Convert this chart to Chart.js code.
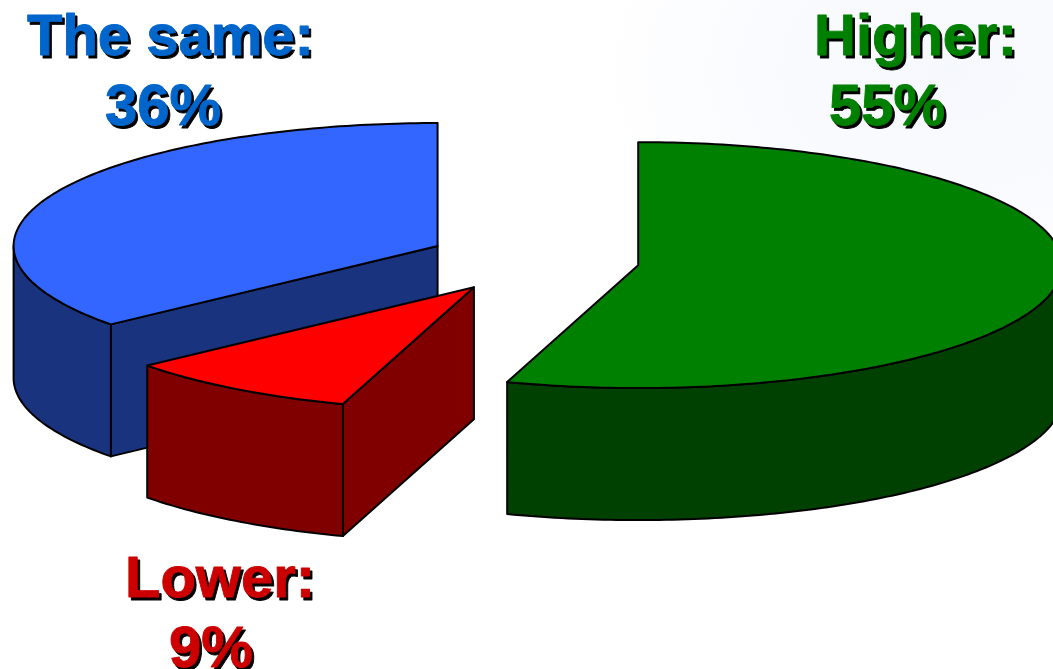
<!DOCTYPE html>
<html><head><meta charset="utf-8">
<style>
html,body{margin:0;padding:0;width:1053px;height:669px;overflow:hidden;
background:radial-gradient(ellipse 360px 260px at 950px 70px,#f5f8fd 0%,#fafbfe 55%,#ffffff 100%);}
#c{display:block;}
</style>
<script src="https://cdn.jsdelivr.net/npm/chart.js@4"></script>
</head><body><canvas id="c" width="1053" height="669"></canvas>
<script>
const categories = ['Higher', 'Lower', 'The same'];
const shares = [55, 9, 36];
const topColors = ['#008000', '#FF0000', '#3366FF'];
const wallColors = ['#004000', '#800000', '#19337F'];
const textColors = ['#008000', '#CC0000', '#0066CC'];
const labelAnchors = [[814, 55, 829, 125], [125, 597, 169, 667], [27, 55, 105, 125]];
const pieRadius = 424, squash = 0.29, depth = 132, explode = 106, explodeSquash = 0.31;

function centre(el) {
  const mid = (el.startAngle + el.endAngle) / 2;
  return { x: el.x + Math.cos(mid) * explode, y: el.y + Math.sin(mid) * explode * explodeSquash, mid };
}
function pt(c, el, a) {
  return { x: c.x + Math.cos(a) * el.outerRadius, y: c.y + Math.sin(a) * el.outerRadius * squash };
}
function arcPts(c, el, a0, a1) {
  const n = Math.max(2, Math.ceil(Math.abs(a1 - a0) * 60)), out = [];
  for (let i = 0; i <= n; i++) out.push(pt(c, el, a0 + (a1 - a0) * i / n));
  return out;
}
function face(ctx, pts, fill) {
  ctx.beginPath();
  pts.forEach((p, i) => i ? ctx.lineTo(p.x, p.y) : ctx.moveTo(p.x, p.y));
  for (let i = pts.length - 1; i >= 0; i--) ctx.lineTo(pts[i].x, pts[i].y + depth);
  ctx.closePath();
  ctx.fillStyle = fill; ctx.fill(); ctx.stroke();
}
function drawWalls(ctx, el, fill) {
  const c = centre(el), a0 = el.startAngle, a1 = el.endAngle, T = Math.PI * 2;
  if (Math.sin(a0 - Math.PI / 2) > 1e-6) face(ctx, [c, pt(c, el, a0)], fill);
  if (Math.sin(a1 + Math.PI / 2) > 1e-6) face(ctx, [c, pt(c, el, a1)], fill);
  for (let k = -1; k <= 1; k++) {
    const s = Math.max(a0, k * T), e = Math.min(a1, k * T + Math.PI);
    if (e > s) face(ctx, arcPts(c, el, s, e), fill);
  }
}
const pie3d = {
  id: 'pie3d',
  beforeDatasetsDraw(chart) {
    const ctx = chart.ctx, arcs = chart.getDatasetMeta(0).data;
    ctx.save();
    ctx.lineWidth = 2; ctx.strokeStyle = '#000'; ctx.lineJoin = 'round';
    [2, 0, 1].forEach(i => drawWalls(ctx, arcs[i], wallColors[i]));
    ctx.restore();
    arcs.forEach(el => {
      const c = centre(el);
      ctx.save();
      ctx.translate(c.x, c.y);
      ctx.scale(1, squash);
      ctx.translate(-el.x, -el.y);
      el.draw(ctx);
      ctx.restore();
      ctx.save();
      ctx.lineWidth = 2; ctx.strokeStyle = '#000'; ctx.lineJoin = 'round';
      ctx.beginPath();
      ctx.moveTo(c.x, c.y);
      arcPts(c, el, el.startAngle, el.endAngle).forEach(p => ctx.lineTo(p.x, p.y));
      ctx.closePath();
      ctx.stroke();
      ctx.restore();
    });
    return false;
  },
  afterDraw(chart) {
    const ctx = chart.ctx;
    ctx.save();
    ctx.font = 'bold 58px "Liberation Sans", Arial, sans-serif';
    ctx.textBaseline = 'alphabetic';
    ctx.lineJoin = 'round';
    ctx.lineWidth = 0.9;
    categories.forEach((name, i) => {
      const [x1, y1, x2, y2] = labelAnchors[i];
      [[name + ':', x1, y1], [shares[i] + '%', x2, y2]].forEach(([t, x, y]) => {
        ctx.fillStyle = '#000'; ctx.strokeStyle = '#000';
        ctx.fillText(t, x + 2.5, y + 2.5);
        ctx.strokeText(t, x + 2.5, y + 2.5);
        ctx.fillStyle = textColors[i]; ctx.strokeStyle = textColors[i];
        ctx.fillText(t, x, y);
        ctx.strokeText(t, x, y);
      });
    });
    ctx.restore();
  }
};
new Chart(document.getElementById('c'), {
  type: 'pie',
  data: { labels: categories, datasets: [{ data: shares, backgroundColor: topColors, borderWidth: 0, hoverOffset: 0 }] },
  options: {
    responsive: false, animation: false, radius: pieRadius,
    layout: { padding: { left: 14, right: 0, top: 0, bottom: 149 } },
    plugins: { legend: { display: false }, tooltip: { enabled: false } },
    events: []
  },
  plugins: [pie3d]
});
</script></body></html>
